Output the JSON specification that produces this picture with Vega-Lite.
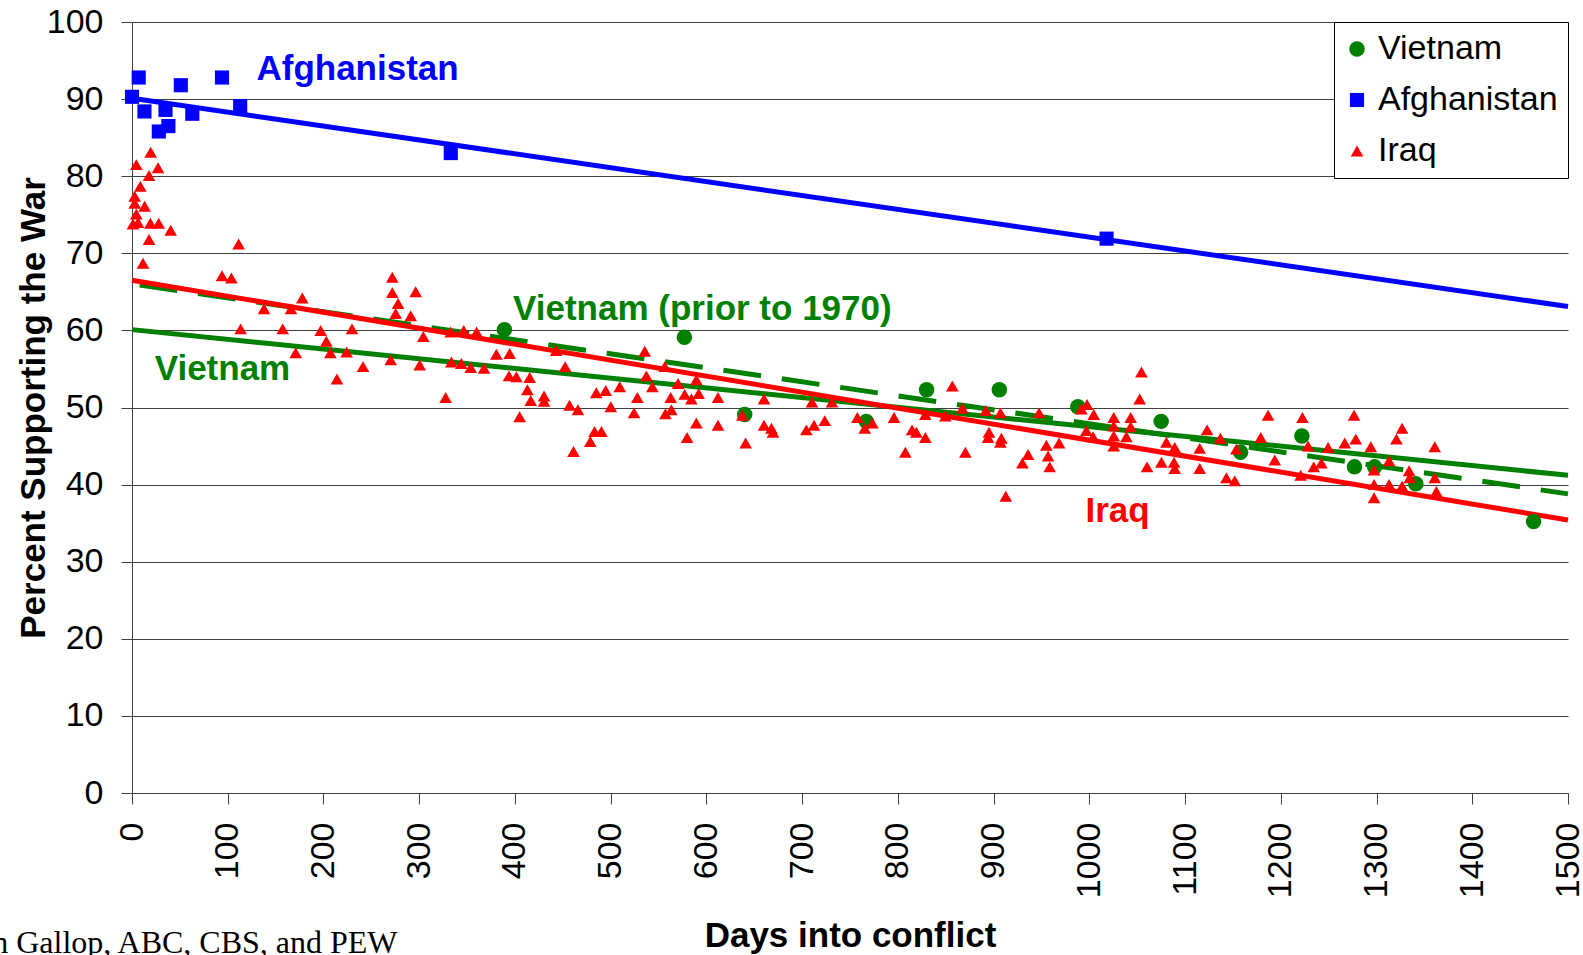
{
  "$schema": "https://vega.github.io/schema/vega-lite/v6.json",
  "width": 1436,
  "height": 771,
  "autosize": {"type": "none"},
  "padding": {"left": 132, "top": 22, "right": 15, "bottom": 162},
  "background": "white",
  "config": {
    "view": {"stroke": null},
    "font": "Liberation Sans",
    "axis": {
      "labelFont": "Liberation Sans", "labelFontSize": 34, "labelColor": "black",
      "titleFont": "Liberation Sans", "titleFontSize": 35, "titleFontWeight": "bold", "titleColor": "black",
      "domainColor": "#404040", "domainWidth": 1, "tickColor": "#404040", "tickWidth": 1, "tickSize": 11
    }
  },
  "title": {
    "text": "Based on Gallop, ABC, CBS, and PEW",
    "orient": "bottom", "anchor": "start", "frame": "group",
    "font": "Liberation Serif", "fontSize": 32, "fontWeight": "normal", "color": "black",
    "baseline": "alphabetic", "offset": 0, "dx": -242, "dy": 0
  },
  "datasets": {
    "trends": [
      {"line": "Vietnam", "day": 0, "pct": 60.1},
      {"line": "Vietnam", "day": 1500, "pct": 41.2},
      {"line": "Vietnam prior to 1970", "day": 8, "pct": 65.9},
      {"line": "Vietnam prior to 1970", "day": 1500, "pct": 38.8},
      {"line": "Iraq", "day": 0, "pct": 66.5},
      {"line": "Iraq", "day": 1500, "pct": 35.4},
      {"line": "Afghanistan", "day": 0, "pct": 90.1},
      {"line": "Afghanistan", "day": 1500, "pct": 63.1}
    ],
    "notes": [
      {"label": "Afghanistan", "war": "Afghanistan", "day": 130, "pct": 92.5},
      {"label": "Vietnam (prior to 1970)", "war": "Vietnam", "day": 398, "pct": 61.4},
      {"label": "Vietnam", "war": "Vietnam", "day": 23.7, "pct": 53.6},
      {"label": "Iraq", "war": "Iraq", "day": 996, "pct": 35.1}
    ],
    "pts": [
      {"war": "Vietnam", "day": 389, "pct": 60.1},
      {"war": "Vietnam", "day": 577, "pct": 59.1},
      {"war": "Vietnam", "day": 640, "pct": 49.1},
      {"war": "Vietnam", "day": 767, "pct": 48.2},
      {"war": "Vietnam", "day": 830, "pct": 52.3},
      {"war": "Vietnam", "day": 906, "pct": 52.3},
      {"war": "Vietnam", "day": 988, "pct": 50.1},
      {"war": "Vietnam", "day": 1075, "pct": 48.2},
      {"war": "Vietnam", "day": 1158, "pct": 44.2},
      {"war": "Vietnam", "day": 1222, "pct": 46.3},
      {"war": "Vietnam", "day": 1277, "pct": 42.3},
      {"war": "Vietnam", "day": 1298, "pct": 42.3},
      {"war": "Vietnam", "day": 1341, "pct": 40.1},
      {"war": "Vietnam", "day": 1464, "pct": 35.2},
      {"war": "Afghanistan", "day": 0, "pct": 90.3},
      {"war": "Afghanistan", "day": 7, "pct": 92.8},
      {"war": "Afghanistan", "day": 13, "pct": 88.4},
      {"war": "Afghanistan", "day": 28, "pct": 85.8},
      {"war": "Afghanistan", "day": 35, "pct": 88.6},
      {"war": "Afghanistan", "day": 38, "pct": 86.5},
      {"war": "Afghanistan", "day": 51, "pct": 91.8},
      {"war": "Afghanistan", "day": 63, "pct": 88.1},
      {"war": "Afghanistan", "day": 94, "pct": 92.8},
      {"war": "Afghanistan", "day": 113, "pct": 89.1},
      {"war": "Afghanistan", "day": 333, "pct": 83.0},
      {"war": "Afghanistan", "day": 1018, "pct": 71.9},
      {"war": "Iraq", "day": 19.5, "pct": 83.1},
      {"war": "Iraq", "day": 4.5, "pct": 81.5},
      {"war": "Iraq", "day": 27.2, "pct": 81.1},
      {"war": "Iraq", "day": 17.8, "pct": 80.1},
      {"war": "Iraq", "day": 8.7, "pct": 78.7},
      {"war": "Iraq", "day": 2.8, "pct": 77.4},
      {"war": "Iraq", "day": 2.8, "pct": 76.5},
      {"war": "Iraq", "day": 13.2, "pct": 76.1},
      {"war": "Iraq", "day": 4.5, "pct": 75.1},
      {"war": "Iraq", "day": 6.3, "pct": 74.0},
      {"war": "Iraq", "day": 1.0, "pct": 73.8},
      {"war": "Iraq", "day": 19.2, "pct": 73.9},
      {"war": "Iraq", "day": 27.9, "pct": 73.9},
      {"war": "Iraq", "day": 40.4, "pct": 73.0},
      {"war": "Iraq", "day": 17.8, "pct": 71.8},
      {"war": "Iraq", "day": 111.4, "pct": 71.2},
      {"war": "Iraq", "day": 11.5, "pct": 68.7},
      {"war": "Iraq", "day": 94.0, "pct": 67.1},
      {"war": "Iraq", "day": 103.8, "pct": 66.8},
      {"war": "Iraq", "day": 271.9, "pct": 66.9},
      {"war": "Iraq", "day": 271.9, "pct": 64.9},
      {"war": "Iraq", "day": 296.3, "pct": 65.0},
      {"war": "Iraq", "day": 277.9, "pct": 63.5},
      {"war": "Iraq", "day": 275.4, "pct": 62.2},
      {"war": "Iraq", "day": 291.1, "pct": 61.9},
      {"war": "Iraq", "day": 177.9, "pct": 64.2},
      {"war": "Iraq", "day": 137.9, "pct": 62.8},
      {"war": "Iraq", "day": 166.1, "pct": 62.8},
      {"war": "Iraq", "day": 113.5, "pct": 60.2},
      {"war": "Iraq", "day": 157.4, "pct": 60.2},
      {"war": "Iraq", "day": 197.1, "pct": 60.0},
      {"war": "Iraq", "day": 229.8, "pct": 60.2},
      {"war": "Iraq", "day": 203.0, "pct": 58.6},
      {"war": "Iraq", "day": 171.0, "pct": 57.1},
      {"war": "Iraq", "day": 207.2, "pct": 57.1},
      {"war": "Iraq", "day": 224.2, "pct": 57.2},
      {"war": "Iraq", "day": 241.3, "pct": 55.3},
      {"war": "Iraq", "day": 214.1, "pct": 53.7},
      {"war": "Iraq", "day": 304.3, "pct": 59.2},
      {"war": "Iraq", "day": 270.2, "pct": 56.2},
      {"war": "Iraq", "day": 300.5, "pct": 55.5},
      {"war": "Iraq", "day": 327.6, "pct": 51.3},
      {"war": "Iraq", "day": 332.9, "pct": 59.8},
      {"war": "Iraq", "day": 346.5, "pct": 60.0},
      {"war": "Iraq", "day": 360.0, "pct": 59.8},
      {"war": "Iraq", "day": 333.6, "pct": 55.9},
      {"war": "Iraq", "day": 344.0, "pct": 55.7},
      {"war": "Iraq", "day": 353.8, "pct": 55.2},
      {"war": "Iraq", "day": 367.7, "pct": 55.1},
      {"war": "Iraq", "day": 380.6, "pct": 56.9},
      {"war": "Iraq", "day": 394.5, "pct": 57.0},
      {"war": "Iraq", "day": 393.8, "pct": 54.1},
      {"war": "Iraq", "day": 401.5, "pct": 54.0},
      {"war": "Iraq", "day": 415.4, "pct": 53.9},
      {"war": "Iraq", "day": 413.0, "pct": 52.3},
      {"war": "Iraq", "day": 416.5, "pct": 50.9},
      {"war": "Iraq", "day": 430.4, "pct": 50.8},
      {"war": "Iraq", "day": 430.4, "pct": 51.5},
      {"war": "Iraq", "day": 404.9, "pct": 48.8},
      {"war": "Iraq", "day": 443.1, "pct": 57.4},
      {"war": "Iraq", "day": 452.5, "pct": 55.3},
      {"war": "Iraq", "day": 461.2, "pct": 44.3},
      {"war": "Iraq", "day": 457.0, "pct": 50.3},
      {"war": "Iraq", "day": 465.8, "pct": 49.7},
      {"war": "Iraq", "day": 478.7, "pct": 45.6},
      {"war": "Iraq", "day": 483.2, "pct": 46.9},
      {"war": "Iraq", "day": 485.0, "pct": 51.9},
      {"war": "Iraq", "day": 490.3, "pct": 46.9},
      {"war": "Iraq", "day": 494.8, "pct": 52.2},
      {"war": "Iraq", "day": 509.5, "pct": 52.7},
      {"war": "Iraq", "day": 500.1, "pct": 50.1},
      {"war": "Iraq", "day": 527.9, "pct": 51.3},
      {"war": "Iraq", "day": 524.4, "pct": 49.3},
      {"war": "Iraq", "day": 535.6, "pct": 57.3},
      {"war": "Iraq", "day": 537.3, "pct": 54.1},
      {"war": "Iraq", "day": 543.6, "pct": 52.7},
      {"war": "Iraq", "day": 557.2, "pct": 49.2},
      {"war": "Iraq", "day": 563.4, "pct": 49.7},
      {"war": "Iraq", "day": 556.5, "pct": 55.3},
      {"war": "Iraq", "day": 562.7, "pct": 51.3},
      {"war": "Iraq", "day": 570.4, "pct": 53.1},
      {"war": "Iraq", "day": 589.5, "pct": 53.6},
      {"war": "Iraq", "day": 577.3, "pct": 51.7},
      {"war": "Iraq", "day": 584.3, "pct": 51.1},
      {"war": "Iraq", "day": 591.9, "pct": 51.8},
      {"war": "Iraq", "day": 612.1, "pct": 51.3},
      {"war": "Iraq", "day": 589.5, "pct": 48.0},
      {"war": "Iraq", "day": 612.1, "pct": 47.7},
      {"war": "Iraq", "day": 579.8, "pct": 46.1},
      {"war": "Iraq", "day": 637.6, "pct": 49.0},
      {"war": "Iraq", "day": 641.0, "pct": 45.4},
      {"war": "Iraq", "day": 660.2, "pct": 51.1},
      {"war": "Iraq", "day": 660.2, "pct": 47.7},
      {"war": "Iraq", "day": 667.9, "pct": 47.3},
      {"war": "Iraq", "day": 669.6, "pct": 46.8},
      {"war": "Iraq", "day": 710.3, "pct": 50.7},
      {"war": "Iraq", "day": 731.2, "pct": 50.7},
      {"war": "Iraq", "day": 704.4, "pct": 47.1},
      {"war": "Iraq", "day": 712.4, "pct": 47.7},
      {"war": "Iraq", "day": 723.6, "pct": 48.3},
      {"war": "Iraq", "day": 757.7, "pct": 48.7},
      {"war": "Iraq", "day": 773.4, "pct": 48.0},
      {"war": "Iraq", "day": 765.4, "pct": 47.3},
      {"war": "Iraq", "day": 796.0, "pct": 48.7},
      {"war": "Iraq", "day": 807.8, "pct": 44.2},
      {"war": "Iraq", "day": 814.8, "pct": 47.1},
      {"war": "Iraq", "day": 819.3, "pct": 46.8},
      {"war": "Iraq", "day": 828.7, "pct": 46.1},
      {"war": "Iraq", "day": 828.7, "pct": 49.1},
      {"war": "Iraq", "day": 856.9, "pct": 52.8},
      {"war": "Iraq", "day": 849.6, "pct": 48.9},
      {"war": "Iraq", "day": 867.4, "pct": 49.9},
      {"war": "Iraq", "day": 870.5, "pct": 44.2},
      {"war": "Iraq", "day": 891.8, "pct": 49.6},
      {"war": "Iraq", "day": 907.1, "pct": 49.3},
      {"war": "Iraq", "day": 895.2, "pct": 46.8},
      {"war": "Iraq", "day": 894.2, "pct": 46.1},
      {"war": "Iraq", "day": 908.1, "pct": 46.0},
      {"war": "Iraq", "day": 907.1, "pct": 45.5},
      {"war": "Iraq", "day": 912.7, "pct": 38.5},
      {"war": "Iraq", "day": 936.0, "pct": 43.9},
      {"war": "Iraq", "day": 930.1, "pct": 42.8},
      {"war": "Iraq", "day": 947.5, "pct": 49.3},
      {"war": "Iraq", "day": 955.1, "pct": 45.1},
      {"war": "Iraq", "day": 956.9, "pct": 43.7},
      {"war": "Iraq", "day": 958.6, "pct": 42.3},
      {"war": "Iraq", "day": 968.4, "pct": 45.4},
      {"war": "Iraq", "day": 991.7, "pct": 49.8},
      {"war": "Iraq", "day": 997.6, "pct": 50.4},
      {"war": "Iraq", "day": 1004.6, "pct": 49.1},
      {"war": "Iraq", "day": 996.9, "pct": 47.0},
      {"war": "Iraq", "day": 1003.9, "pct": 46.2},
      {"war": "Iraq", "day": 1025.5, "pct": 48.7},
      {"war": "Iraq", "day": 1025.5, "pct": 47.6},
      {"war": "Iraq", "day": 1025.5, "pct": 46.3},
      {"war": "Iraq", "day": 1025.5, "pct": 45.0},
      {"war": "Iraq", "day": 1043.2, "pct": 48.7},
      {"war": "Iraq", "day": 1043.2, "pct": 47.5},
      {"war": "Iraq", "day": 1038.7, "pct": 46.2},
      {"war": "Iraq", "day": 1054.4, "pct": 54.6},
      {"war": "Iraq", "day": 1052.6, "pct": 51.1},
      {"war": "Iraq", "day": 1060.3, "pct": 42.3},
      {"war": "Iraq", "day": 1075.3, "pct": 42.9},
      {"war": "Iraq", "day": 1080.5, "pct": 45.5},
      {"war": "Iraq", "day": 1089.2, "pct": 44.8},
      {"war": "Iraq", "day": 1088.5, "pct": 42.9},
      {"war": "Iraq", "day": 1089.2, "pct": 42.1},
      {"war": "Iraq", "day": 1123.0, "pct": 47.1},
      {"war": "Iraq", "day": 1115.3, "pct": 44.7},
      {"war": "Iraq", "day": 1115.3, "pct": 42.1},
      {"war": "Iraq", "day": 1136.9, "pct": 46.0},
      {"war": "Iraq", "day": 1143.2, "pct": 40.9},
      {"war": "Iraq", "day": 1151.9, "pct": 40.5},
      {"war": "Iraq", "day": 1153.6, "pct": 44.6},
      {"war": "Iraq", "day": 1186.7, "pct": 49.0},
      {"war": "Iraq", "day": 1179.0, "pct": 46.1},
      {"war": "Iraq", "day": 1193.7, "pct": 43.2},
      {"war": "Iraq", "day": 1222.6, "pct": 48.7},
      {"war": "Iraq", "day": 1228.5, "pct": 45.0},
      {"war": "Iraq", "day": 1220.8, "pct": 41.2},
      {"war": "Iraq", "day": 1234.4, "pct": 42.3},
      {"war": "Iraq", "day": 1242.4, "pct": 42.8},
      {"war": "Iraq", "day": 1249.4, "pct": 44.8},
      {"war": "Iraq", "day": 1266.8, "pct": 45.4},
      {"war": "Iraq", "day": 1276.5, "pct": 49.0},
      {"war": "Iraq", "day": 1278.3, "pct": 45.9},
      {"war": "Iraq", "day": 1294.0, "pct": 44.9},
      {"war": "Iraq", "day": 1297.4, "pct": 41.9},
      {"war": "Iraq", "day": 1297.4, "pct": 40.0},
      {"war": "Iraq", "day": 1297.4, "pct": 38.3},
      {"war": "Iraq", "day": 1313.1, "pct": 43.1},
      {"war": "Iraq", "day": 1313.1, "pct": 40.0},
      {"war": "Iraq", "day": 1320.8, "pct": 45.9},
      {"war": "Iraq", "day": 1326.7, "pct": 47.3},
      {"war": "Iraq", "day": 1326.7, "pct": 39.8},
      {"war": "Iraq", "day": 1334.0, "pct": 41.8},
      {"war": "Iraq", "day": 1334.7, "pct": 40.9},
      {"war": "Iraq", "day": 1360.8, "pct": 44.9},
      {"war": "Iraq", "day": 1360.8, "pct": 40.9},
      {"war": "Iraq", "day": 1362.5, "pct": 39.1}
    ]
  },
  "encoding": {
    "x": {
      "field": "day", "type": "quantitative",
      "scale": {"domain": [0, 1500], "nice": false, "zero": false},
      "axis": {
        "values": [0, 100, 200, 300, 400, 500, 600, 700, 800, 900, 1000, 1100, 1200, 1300, 1400, 1500],
        "format": "d",
        "labelAngle": -90, "labelPadding": 18, "labelFlush": false, "labelOverlap": false,
        "grid": false, "title": "Days into conflict",
        "titleX": 718, "titleY": 153, "titleBaseline": "alphabetic", "titleAlign": "center", "titleAngle": 0
      }
    },
    "y": {
      "field": "pct", "type": "quantitative",
      "scale": {"domain": [0, 100], "nice": false},
      "axis": {
        "values": [0, 10, 20, 30, 40, 50, 60, 70, 80, 90, 100],
        "format": "d",
        "labelPadding": 18, "labelOverlap": false, "labelFlush": false,
        "grid": true, "gridColor": "#404040", "gridWidth": 1, "gridOpacity": 1,
        "title": "Percent Supporting the War",
        "titleX": -88, "titleY": 385.5, "titleAngle": -90, "titleBaseline": "alphabetic", "titleAlign": "center"
      }
    }
  },
  "layer": [
    {
      "data": {"name": "trends"},
      "transform": [{"filter": "datum.line === 'Vietnam'"}],
      "mark": {"type": "line", "color": "#008000", "strokeWidth": 5}
    },
    {
      "data": {"name": "trends"},
      "transform": [{"filter": "datum.line === 'Vietnam prior to 1970'"}],
      "mark": {"type": "line", "color": "#008000", "strokeWidth": 5, "strokeDash": [38, 21]}
    },
    {
      "data": {"name": "trends"},
      "transform": [{"filter": "datum.line === 'Iraq'"}],
      "mark": {"type": "line", "color": "#ff0000", "strokeWidth": 5}
    },
    {
      "data": {"name": "trends"},
      "transform": [{"filter": "datum.line === 'Afghanistan'"}],
      "mark": {"type": "line", "color": "#0000ff", "strokeWidth": 5}
    },
    {
      "data": {"name": "pts"},
      "mark": {"type": "point", "filled": true, "opacity": 1, "strokeWidth": 0},
      "encoding": {
        "color": {
          "field": "war", "type": "nominal",
          "scale": {"domain": ["Vietnam", "Afghanistan", "Iraq"], "range": ["#008000", "#0000ff", "#ff0000"]},
          "legend": {"orient": "none", "legendX": 1202, "legendY": 0, "title": null, "padding": 10, "rowPadding": 17,
            "labelFont": "Liberation Sans", "labelFontSize": 34, "labelColor": "black", "labelOffset": 4, "labelLimit": 400,
            "strokeColor": "black", "fillColor": "white", "cornerRadius": 0, "symbolStrokeWidth": 0, "symbolOpacity": 1, "symbolOffset": -4}
        },
        "shape": {
          "field": "war", "type": "nominal",
          "scale": {"domain": ["Vietnam", "Afghanistan", "Iraq"], "range": ["circle", "square", "triangle-up"]},
          "legend": {"orient": "none", "legendX": 1202, "legendY": 0, "title": null, "padding": 10, "rowPadding": 17,
            "labelFont": "Liberation Sans", "labelFontSize": 34, "labelColor": "black", "labelOffset": 4, "labelLimit": 400,
            "strokeColor": "black", "fillColor": "white", "cornerRadius": 0, "symbolStrokeWidth": 0, "symbolOpacity": 1, "symbolOffset": -4}
        },
        "size": {
          "field": "war", "type": "nominal",
          "scale": {"type": "point", "domain": ["Vietnam", "Afghanistan", "Iraq"], "range": [240, 160], "padding": 0},
          "legend": {"orient": "none", "legendX": 1202, "legendY": 0, "title": null, "padding": 10, "rowPadding": 17,
            "labelFont": "Liberation Sans", "labelFontSize": 34, "labelColor": "black", "labelOffset": 4, "labelLimit": 400,
            "strokeColor": "black", "fillColor": "white", "cornerRadius": 0, "symbolStrokeWidth": 0, "symbolOpacity": 1, "symbolOffset": -4}
        }
      }
    },
    {
      "data": {"name": "notes"},
      "transform": [{"filter": "datum.war === 'Afghanistan'"}],
      "mark": {"type": "text", "align": "left", "baseline": "alphabetic", "font": "Liberation Sans", "fontWeight": "bold", "fontSize": 35, "color": "#0000ff"},
      "encoding": {"text": {"field": "label"}}
    },
    {
      "data": {"name": "notes"},
      "transform": [{"filter": "datum.war === 'Vietnam'"}],
      "mark": {"type": "text", "align": "left", "baseline": "alphabetic", "font": "Liberation Sans", "fontWeight": "bold", "fontSize": 35, "color": "#008000"},
      "encoding": {"text": {"field": "label"}}
    },
    {
      "data": {"name": "notes"},
      "transform": [{"filter": "datum.war === 'Iraq'"}],
      "mark": {"type": "text", "align": "left", "baseline": "alphabetic", "font": "Liberation Sans", "fontWeight": "bold", "fontSize": 35, "color": "#ff0000"},
      "encoding": {"text": {"field": "label"}}
    }
  ]
}
